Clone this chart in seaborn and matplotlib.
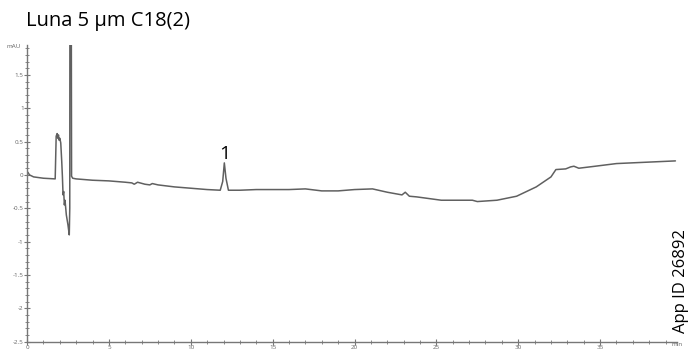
import numpy as np
import pandas as pd
import seaborn as sns
import matplotlib.pyplot as plt
from matplotlib.ticker import MultipleLocator

# chromatogram (time in min, signal in mAU)
time_min = [0.0, 0.05, 0.15, 0.4, 1.0, 1.72, 1.78, 1.84, 1.88, 1.92, 1.96, 2.0, 2.06,
            2.12, 2.16, 2.2, 2.24, 2.28, 2.32, 2.4, 2.5, 2.58, 2.61, 2.62, 2.70, 2.72,
            2.79, 3.0, 4.0, 5.0, 6.0, 6.4, 6.55, 6.75, 7.2, 7.5, 7.65, 8.0, 9.0, 10.0,
            11.0, 11.8, 11.95, 12.05, 12.15, 12.3, 13.0, 14.0, 15.0, 16.0, 17.0, 18.0,
            19.0, 20.0, 21.1, 22.0, 22.9, 23.1, 23.35, 23.8, 25.3, 27.2, 27.5, 28.7,
            29.9, 31.1, 32.0, 32.3, 32.9, 33.2, 33.4, 33.7, 34.7, 36.0, 37.8, 39.6]
signal_mau = [0.0, 0.04, 0.0, -0.03, -0.05, -0.06, 0.58, 0.62, 0.55, 0.6, 0.52, 0.55, 0.48,
              0.2, -0.02, -0.3, -0.25, -0.45, -0.38, -0.6, -0.75, -0.9, -0.5, 3.0, 3.0, -0.02,
              -0.05, -0.06, -0.08, -0.09, -0.11, -0.12, -0.14, -0.11, -0.14, -0.15, -0.13,
              -0.15, -0.18, -0.2, -0.22, -0.23, -0.1, 0.18, -0.05, -0.23, -0.23, -0.22,
              -0.22, -0.22, -0.21, -0.24, -0.24, -0.22, -0.21, -0.26, -0.3, -0.26, -0.32,
              -0.33, -0.38, -0.38, -0.4, -0.38, -0.32, -0.18, -0.03, 0.08, 0.09, 0.12,
              0.13, 0.1, 0.13, 0.17, 0.19, 0.21]

peak_labels = ['1']
peak_times = [12.05]
peak_heights = [0.18]

df = pd.DataFrame({'time': time_min, 'mAU': signal_mau})

sns.set_style('ticks')
plt.rcParams['font.family'] = ['Open Sans', 'DejaVu Sans']

fig = plt.figure(figsize=(6.93, 3.51), dpi=100)
ax = fig.add_axes([0.039, 0.027, 0.938, 0.845])

sns.lineplot(data=df, x='time', y='mAU', color='#606060', linewidth=1.1, ax=ax,
             sort=False, estimator=None)

ax.set_xlim(0, 39.7)
ax.set_ylim(-2.5, 1.95)
ax.xaxis.set_minor_locator(MultipleLocator(1))
ax.yaxis.set_minor_locator(MultipleLocator(0.1))
ax.set_xticks(np.arange(0, 40, 5))
ax.set_xticklabels([str(v) for v in range(0, 40, 5)])
ax.set_yticks(np.arange(-2.5, 1.6, 0.5))
ax.set_yticklabels(['-2.5', '-2', '-1.5', '-1', '-0.5', '0', '0.5', '1', '1.5'])
ax.tick_params(which='major', direction='inout', length=4, width=0.8, color='#777777',
               labelsize=4.5, labelcolor='#666666', pad=0.5)
ax.tick_params(which='minor', direction='inout', length=2.5, width=0.6, color='#777777')
for s in ['top', 'right']:
    ax.spines[s].set_visible(False)
for s in ['left', 'bottom']:
    ax.spines[s].set_color('#777777')
    ax.spines[s].set_linewidth(1.0)
ax.set_xlabel('')
ax.set_ylabel('')

ax.text(39.7, -2.5, 'min', fontsize=4.5, color='#666666', ha='center', va='top')
ax.text(-0.4, 1.93, 'mAU', fontsize=4.5, color='#666666', ha='right', va='center')

for lab, t, h in zip(peak_labels, peak_times, peak_heights):
    ax.annotate(lab, (t, h), xytext=(0, 0), textcoords='offset points',
                ha='center', va='bottom', fontsize=14, color='black')

fig.text(0.037, 0.94, 'Luna 5 µm C18(2)', fontsize=14.5, color='black', ha='left', va='center')
fig.text(0.982, 0.2, 'App ID 26892', fontsize=12, color='black', rotation=90,
         ha='center', va='center')

fig.savefig('out.png', dpi=100, facecolor='white')
